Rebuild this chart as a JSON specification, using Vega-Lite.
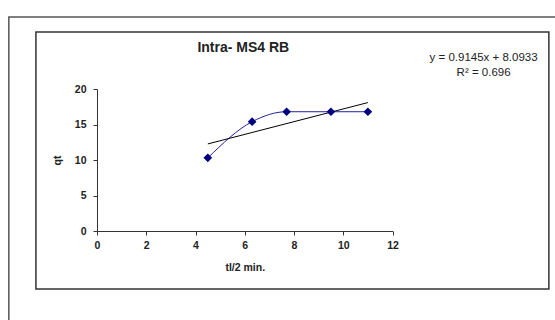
{
  "$schema": "https://vega.github.io/schema/vega-lite/v6.json",
  "width": 295.5,
  "height": 142,
  "autosize": {"type": "none"},
  "padding": {"left": 97, "top": 89, "right": 162.5, "bottom": 89},
  "background": "white",
  "config": {"view": {"stroke": null}, "font": "Liberation Sans"},
  "resolve": {"axis": {"x": "independent", "y": "independent"}},
  "data": {
    "values": [
      {"t": 4.5, "qt": 10.3},
      {"t": 6.3, "qt": 15.4},
      {"t": 7.7, "qt": 16.8},
      {"t": 9.5, "qt": 16.8},
      {"t": 11, "qt": 16.8}
    ]
  },
  "layer": [
    {
      "mark": {"type": "line", "interpolate": "monotone", "color": "#22229a", "strokeWidth": 1},
      "encoding": {
        "x": {
          "field": "t",
          "type": "quantitative",
          "scale": {"domain": [0, 12], "nice": false, "zero": false},
          "axis": {
            "values": [0, 2, 4, 6, 8, 10, 12],
            "title": "tl/2 min.",
            "grid": false,
            "domainColor": "#333333",
            "tickColor": "#333333",
            "tickSize": 4,
            "labelFlush": false,
            "labelOverlap": false,
            "labelFontSize": 10.5,
            "labelFontWeight": "bold",
            "labelColor": "#222222",
            "labelPadding": 5,
            "titleFontSize": 10.5,
            "titleFontWeight": "bold",
            "titleColor": "#222222",
            "titlePadding": 12
          }
        },
        "y": {
          "field": "qt",
          "type": "quantitative",
          "scale": {"domain": [0, 20], "nice": false, "zero": false},
          "axis": {
            "values": [0, 5, 10, 15, 20],
            "title": "qt",
            "grid": false,
            "domainColor": "#333333",
            "tickColor": "#333333",
            "tickSize": 4,
            "labelOverlap": false,
            "labelFontSize": 10.5,
            "labelFontWeight": "bold",
            "labelColor": "#222222",
            "labelPadding": 7,
            "titleFontSize": 10.5,
            "titleFontWeight": "bold",
            "titleColor": "#222222",
            "titlePadding": 12
          }
        }
      }
    },
    {
      "data": {"values": [{}]},
      "mark": {"type": "rect", "filled": false, "stroke": "#555555", "strokeWidth": 1.5},
      "encoding": {
        "x": {"datum": -3.58, "type": "quantitative", "axis": null},
        "x2": {"datum": 30},
        "y": {"datum": 30.14, "type": "quantitative", "axis": null},
        "y2": {"datum": -20}
      }
    },
    {
      "data": {"values": [{}]},
      "mark": {"type": "rect", "filled": false, "stroke": "#333333", "strokeWidth": 1.5},
      "encoding": {
        "x": {"datum": -2.48, "type": "quantitative", "axis": null},
        "x2": {"datum": 18.35},
        "y": {"datum": 28.03, "type": "quantitative", "axis": null},
        "y2": {"datum": -8.17}
      }
    },
    {
      "transform": [{"regression": "qt", "on": "t", "extent": [4.5, 11]}],
      "mark": {"type": "line", "color": "#000000", "strokeWidth": 1},
      "encoding": {
        "x": {"field": "t", "type": "quantitative", "axis": null},
        "y": {"field": "qt", "type": "quantitative", "axis": null}
      }
    },
    {
      "mark": {"type": "point", "shape": "diamond", "filled": true, "color": "#000080", "size": 75, "opacity": 1},
      "encoding": {
        "x": {"field": "t", "type": "quantitative", "axis": null},
        "y": {"field": "qt", "type": "quantitative", "axis": null}
      }
    },
    {
      "data": {"values": [{}]},
      "mark": {"type": "text", "text": "Intra- MS4 RB", "fontSize": 14, "fontWeight": "bold", "color": "#222222", "align": "center", "baseline": "middle"},
      "encoding": {
        "x": {"datum": 5.94, "type": "quantitative", "axis": null},
        "y": {"datum": 25.8, "type": "quantitative", "axis": null}
      }
    },
    {
      "data": {"values": [{}]},
      "mark": {"type": "text", "text": ["y = 0.9145x + 8.0933", "R² = 0.696"], "lineHeight": 15, "fontSize": 11.5, "color": "#222222", "align": "center", "baseline": "middle"},
      "encoding": {
        "x": {"datum": 15.7, "type": "quantitative", "axis": null},
        "y": {"datum": 24.3, "type": "quantitative", "axis": null}
      }
    }
  ]
}
